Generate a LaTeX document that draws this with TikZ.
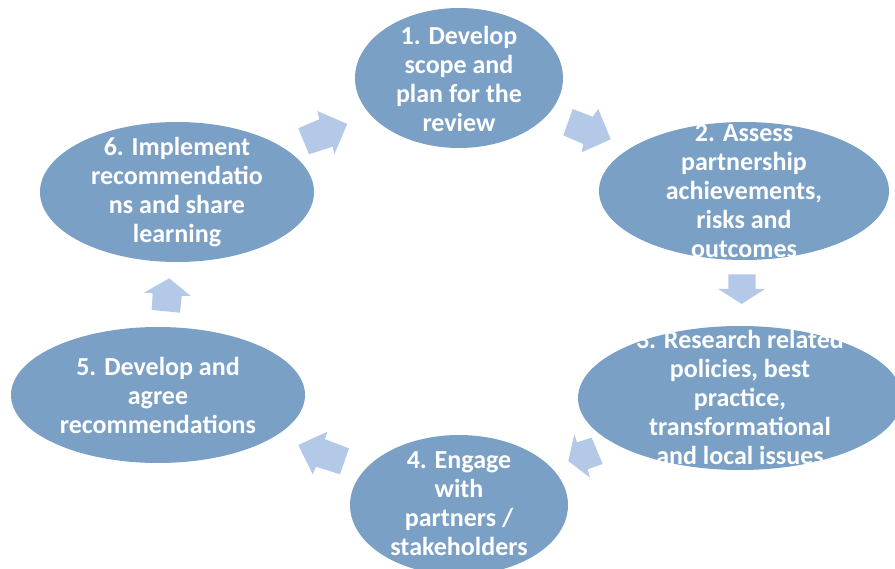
\documentclass[tikz,border=0pt]{standalone}
\usepackage{fontspec}
\setmainfont{Carlito}
\usetikzlibrary{shapes.geometric}
\definecolor{ellfill}{HTML}{7BA0C6}
\definecolor{arrfill}{HTML}{B4C8E8}
\tikzset{
  stage/.style={ellipse, fill=ellfill, draw=none, inner sep=0pt},
  stagetext/.style={text=white, align=center, font=\fontsize{26}{29}\selectfont\bfseries, inner sep=0pt},
  blockarrow/.style={fill=arrfill, draw=none}
}
\begin{document}
\begin{tikzpicture}[x=1pt,y=-1pt]
\useasboundingbox (0,0) rectangle (895,569);
\begin{scope}
\clip (0,0) rectangle (895,569);
% ellipses
\node[stage, minimum width=208, minimum height=140] (e1) at (459,78) {};
\node[stage, minimum width=290, minimum height=138] (e2) at (744,191) {};
\node[stage, minimum width=324, minimum height=144] (e3) at (740,398) {};
\node[stage, minimum width=218, minimum height=140] (e4) at (459,505) {};
\node[stage, minimum width=294, minimum height=136] (e5) at (158,395) {};
\node[stage, minimum width=274, minimum height=140] (e6) at (177,192) {};
% texts
\node[stagetext] (t1) at (459,79) {1. Develop\\scope and\\plan for the\\review};
\node[stagetext] (t2) at (744,191.5) {2. Assess\\partnership\\achievements,\\risks and\\outcomes};
\node[stagetext] (t3) at (740,397.5) {3. Research related\\policies, best\\practice,\\transformational\\and local issues};
\node[stagetext] (t4) at (459,504) {4. Engage\\with\\partners /\\stakeholders};
\node[stagetext] (t5) at (158,395.5) {5. Develop and\\agree\\recommendations};
\node[stagetext] (t6) at (177,192) {6. Implement\\recommendatio\\ns and share\\learning};
\end{scope}
% block arrows
\fill[blockarrow] (298.3,128.3) -- (309,154.3) -- (332.7,146.7) -- (334.3,154.3) -- (347.3,124) -- (317.3,111) -- (319.3,119.3) -- cycle;
\fill[blockarrow] (572.7,109) -- (592.7,116.7) -- (598.3,109) -- (610.7,139.3) -- (581.7,152.3) -- (583.3,144) -- (563.3,135.3) -- cycle;
\fill[blockarrow] (728.3,274.3) -- (755.7,274.3) -- (755.7,289) -- (765,289) -- (741.7,304) -- (718.3,289) -- (728.3,289) -- cycle;
\fill[blockarrow] (574.3,434.3) -- (577,442.3) -- (591.7,437.7) -- (602.7,464) -- (587.7,469.3) -- (590,477.7) -- (568.3,461) -- cycle;
\fill[blockarrow] (327.3,431.7) -- (298.3,445) -- (312.7,474.3) -- (316,466.7) -- (340,474.3) -- (349,448.3) -- (325,439.3) -- cycle;
\fill[blockarrow] (169.3,278.3) -- (190.7,296) -- (181.7,296) -- (180,312.7) -- (151.7,310) -- (152.7,293.3) -- (144,292.7) -- cycle;
\end{tikzpicture}
\end{document}
